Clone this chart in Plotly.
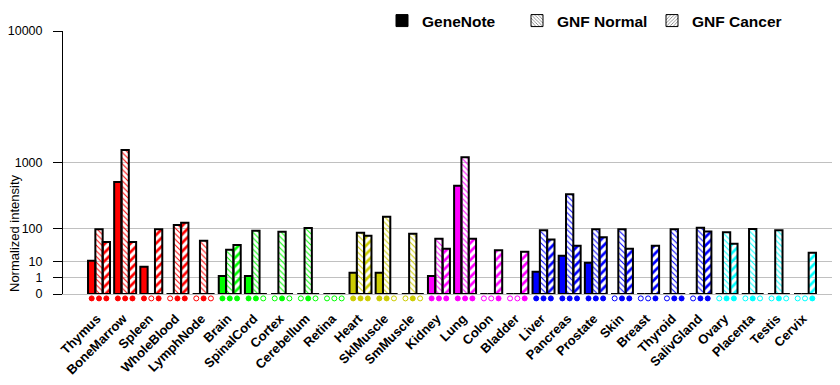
import numpy as np
import plotly.graph_objects as go

tissues = ["Thymus", "BoneMarrow", "Spleen", "WholeBlood", "LymphNode",
           "Brain", "SpinalCord", "Cortex", "Cerebellum", "Retina",
           "Heart", "SklMuscle", "SmMuscle",
           "Kidney", "Lung", "Colon", "Bladder",
           "Liver", "Pancreas", "Prostate", "Skin", "Breast", "Thyroid", "SalivGland",
           "Ovary", "Placenta", "Testis", "Cervix"]
tissue_group = (["red"] * 5 + ["green"] * 5 + ["olive"] * 3 + ["magenta"] * 4
                + ["blue"] * 7 + ["cyan"] * 4)
palette = {"red": "#FF0000", "green": "#00FF00", "olive": "#CCCC00",
           "magenta": "#FF00FF", "blue": "#0000FF", "cyan": "#00FFFF"}

genenote = [10.5, 587, 5.4, 0, 0, 1.36, 1.36, 0, 0, 0, 2.37, 2.37, 0, 1.36, 523,
            0, 0, 2.75, 16.6, 8.5, 0, 0, 0, 0, 0, 0, 0, 0]
gnf_normal = [95, 1349, 0, 117, 50, 27, 88, 83.5, 101, 0, 79, 170, 75, 56, 1136,
              0, 0, 90, 398, 95, 95, 0, 95, 103, 81, 96, 90, 0]
gnf_cancer = [46, 46, 95, 131, 0, 37.6, 0, 0, 0, 0, 67, 0, 0, 29, 56,
              25.7, 23, 54, 36, 61, 29, 36, 0, 85, 41, 0, 0, 21.3]

gn_call = [1, 1, 1, 0, 0, 1, 1, 0, 0, 0, 1, 1, 0, 1, 1, 0, 0, 1, 1, 1, 0, 0, 0, 0, 0, 0, 0, 0]
normal_call = [1, 1, 0, 1, 1, 1, 1, 1, 1, 0, 1, 1, 1, 1, 1, 0, 0, 1, 1, 1, 1, 0, 1, 1, 1, 1, 1, 0]
cancer_call = [1, 1, 1, 1, 0, 1, 0, 0, 0, 0, 1, 0, 0, 1, 1, 1, 1, 1, 1, 1, 1, 1, 1, 1, 1, 0, 0, 1]

tick_values = [0, 1, 10, 100, 1000, 10000]
tick_labels = ["0", "1", "10", "100", "1000", "10000"]

EXP = np.log10(2.0)


def tf(v):
    return np.power(np.asarray(v, dtype=float), EXP)


colors = [palette[g] for g in tissue_group]
xi = np.arange(len(tissues))
W = 0.28
offsets = [-0.42, -0.14, 0.14]

fig = go.Figure()

series = [
    ("GeneNote", genenote, gn_call, ""),
    ("GNF Normal", gnf_normal, normal_call, "\\"),
    ("GNF Cancer", gnf_cancer, cancer_call, "/"),
]
pat_size = {"": 8, "\\": 4, "/": 6}
pat_sol = {"": 0.3, "\\": 0.25, "/": 0.45}

for k, (name, vals, calls, shape) in enumerate(series):
    marker = dict(color=colors, line=dict(color="black", width=2))
    if shape:
        marker["pattern"] = dict(shape=shape, bgcolor=colors, fgcolor="white",
                                 fillmode="replace", size=pat_size[shape],
                                 solidity=pat_sol[shape])
    fig.add_trace(go.Bar(x=xi, y=tf(vals), width=W, offset=offsets[k],
                         marker=marker, showlegend=False, cliponaxis=False,
                         hoverinfo="skip"))
    mx = xi + offsets[k] + W / 2
    fig.add_trace(go.Scatter(
        x=mx, y=[0.45] * len(tissues), yaxis="y2", mode="markers", cliponaxis=False,
        showlegend=False, hoverinfo="skip",
        marker=dict(size=5, color=[c if p else "white" for c, p in zip(colors, calls)],
                    line=dict(color=colors, width=1), symbol="circle")))

fig.add_trace(go.Bar(x=[None], y=[None], name="GeneNote",
                     marker=dict(color="black", line=dict(color="black", width=1))))
fig.add_trace(go.Bar(x=[None], y=[None], name="GNF Normal",
                     marker=dict(color="white", line=dict(color="black", width=1),
                                 pattern=dict(shape="\\", fgcolor="black", bgcolor="white",
                                              size=3, solidity=0.35))))
fig.add_trace(go.Bar(x=[None], y=[None], name="GNF Cancer",
                     marker=dict(color="white", line=dict(color="black", width=1),
                                 pattern=dict(shape="/", fgcolor="black", bgcolor="white",
                                              size=3, solidity=0.35))))

# page has an 8px body margin: work in figure pixels = reference pixels - 8
FW, FH = 832, 377
L, R, T, B = 55, 1, 23, 83
PH = FH - T - B
zero_px = 286
d0 = (FH - B - zero_px) / PH

fig.update_layout(
    width=FW, height=FH,
    margin=dict(l=L, r=R, t=T, b=B, autoexpand=False),
    paper_bgcolor="white", plot_bgcolor="white",
    barmode="overlay",
    font=dict(family="Arial, Liberation Sans, sans-serif", color="black"),
    legend=dict(orientation="h", xref="container", yref="container",
                x=374 / FW, xanchor="left",
                y=1 - 13 / FH, yanchor="middle",
                font=dict(size=15.5, weight="bold"),
                entrywidth=90, entrywidthmode="pixels",
                bgcolor="rgba(0,0,0,0)", traceorder="normal"),
    xaxis=dict(range=[-1.377, 28.3], tickvals=xi, ticktext=tissues, tickangle=-45,
               tickfont=dict(size=13, weight="bold"), showgrid=False, zeroline=False,
               showline=True, linecolor="#C0C0C0", linewidth=1, ticks="",
               ticklabelstandoff=11, ticklabelshift=-2, automargin=False, anchor="y"),
    yaxis=dict(range=[0, 16], domain=[d0, 1], tickvals=tf(tick_values), ticktext=tick_labels,
               showgrid=True, gridcolor="#C0C0C0", gridwidth=1, zeroline=False,
               showline=True, linecolor="black", linewidth=1,
               ticks="outside", ticklen=9, tickcolor="black",
               tickfont=dict(size=12.5), ticklabelstandoff=8, automargin=False),
    yaxis2=dict(range=[0, 1], domain=[0, d0], visible=False, anchor="x"),
    annotations=[dict(text="Normalized intensity", xref="paper", yref="paper",
                      x=(14 - 8 - L) / (FW - L - R), y=(FH - B - 225) / PH, textangle=-90,
                      showarrow=False, font=dict(size=13), xanchor="center",
                      yanchor="middle")],
)

fig.write_html("out.html")
